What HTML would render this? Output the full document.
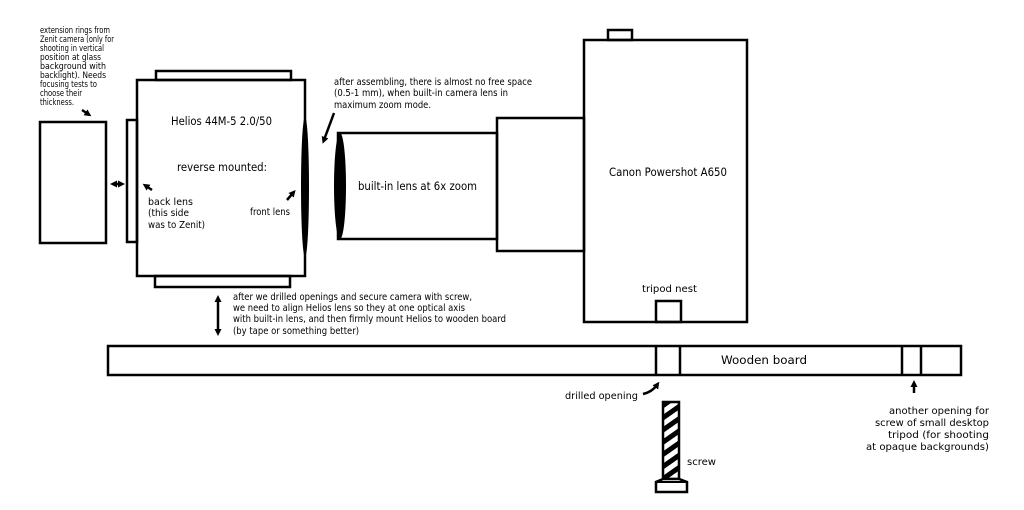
<!DOCTYPE html>
<html><head><meta charset="utf-8"><style>
html,body{margin:0;padding:0;background:#fff;width:1024px;height:510px;overflow:hidden}
svg{display:block}
text{font-family:"DejaVu Sans","Liberation Sans",sans-serif;fill:#000}
.s{font-size:8.5px}
.m{font-size:9.5px}
.l{font-size:11.5px}
</style></head><body>
<svg width="1024" height="510" viewBox="0 0 1024 510" xmlns="http://www.w3.org/2000/svg">
<defs>
<marker id="ah" markerWidth="7" markerHeight="7" refX="3" refY="3.5" orient="auto-start-reverse" markerUnits="userSpaceOnUse"><path d="M0,0 L7,3.5 L0,7 z" fill="#000"/></marker>
<pattern id="hatch" width="16" height="10" patternUnits="userSpaceOnUse" patternTransform="rotate(-35)"><rect width="16" height="5" fill="#000"/></pattern>
</defs>
<g fill="none" stroke="#000" stroke-width="2.5">
<rect x="40" y="122" width="66" height="121"/>
<rect x="127" y="120" width="10" height="122"/>
<rect x="156" y="71" width="135" height="9"/>
<rect x="155" y="276" width="135" height="11"/>
<rect x="137" y="80" width="168" height="196"/>
<rect x="338" y="133" width="159" height="106"/>
<rect x="497" y="118" width="87" height="133"/>
<rect x="608" y="30" width="24" height="10"/>
<rect x="584" y="40" width="163" height="282"/>
<rect x="656" y="301" width="25" height="21"/>
<rect x="108" y="346" width="853" height="29"/>
<line x1="656" y1="346" x2="656" y2="375"/>
<line x1="680" y1="346" x2="680" y2="375"/>
<line x1="902" y1="346" x2="902" y2="375"/>
<line x1="921" y1="346" x2="921" y2="375"/>
</g>
<ellipse cx="305" cy="187" rx="4" ry="70" fill="#000"/>
<ellipse cx="340" cy="186" rx="6" ry="53" fill="#000"/>
<rect x="663" y="402" width="16" height="77" fill="#fff"/>
<rect x="663" y="402" width="16" height="77" fill="url(#hatch)"/>
<rect x="663" y="402" width="16" height="77" fill="none" stroke="#000" stroke-width="2.5"/>
<path d="M663,479 L656,482 L656,492 L687,492 L687,482 L679,479 z" fill="#fff" stroke="#000" stroke-width="2.5"/>
<line x1="656" y1="482" x2="687" y2="482" stroke="#000" stroke-width="2"/>
<g stroke="#000" stroke-width="2.5" fill="none">
<path d="M82,110 L88,114" marker-end="url(#ah)"/>
<path d="M114,184 L121,184" marker-end="url(#ah)" marker-start="url(#ah)"/>
<path d="M152,190 L146,186" marker-end="url(#ah)"/>
<path d="M287,200 L293,193" marker-end="url(#ah)"/>
<path d="M334,113 L324,140" marker-end="url(#ah)"/>
<path d="M218,299 L218,332" marker-end="url(#ah)" marker-start="url(#ah)"/>
<path d="M643,394 Q652,392 657,385" marker-end="url(#ah)"/>
<path d="M914,393 L914,384" marker-end="url(#ah)"/>
</g>
<g lengthAdjust="spacingAndGlyphs">
<text class="s" x="40" y="33" textLength="70" lengthAdjust="spacingAndGlyphs">extension rings from</text>
<text class="s" x="40" y="42" textLength="74" lengthAdjust="spacingAndGlyphs">Zenit camera (only for</text>
<text class="s" x="40" y="51" textLength="64" lengthAdjust="spacingAndGlyphs">shooting in vertical</text>
<text class="s" x="40" y="60" textLength="61" lengthAdjust="spacingAndGlyphs">position at glass</text>
<text class="s" x="40" y="69" textLength="66" lengthAdjust="spacingAndGlyphs">background with</text>
<text class="s" x="40" y="78" textLength="66" lengthAdjust="spacingAndGlyphs">backlight). Needs</text>
<text class="s" x="40" y="87" textLength="57" lengthAdjust="spacingAndGlyphs">focusing tests to</text>
<text class="s" x="40" y="96" textLength="42" lengthAdjust="spacingAndGlyphs">choose their</text>
<text class="s" x="40" y="105" textLength="34" lengthAdjust="spacingAndGlyphs">thickness.</text>
<text class="l" x="171" y="125" textLength="101" lengthAdjust="spacingAndGlyphs">Helios 44M-5 2.0/50</text>
<text class="l" x="177" y="171" textLength="90" lengthAdjust="spacingAndGlyphs">reverse mounted:</text>
<text class="m" x="148" y="205" textLength="45" lengthAdjust="spacingAndGlyphs">back lens</text>
<text class="m" x="148" y="216" textLength="41" lengthAdjust="spacingAndGlyphs">(this side</text>
<text class="m" x="148" y="228" textLength="57" lengthAdjust="spacingAndGlyphs">was to Zenit)</text>
<text class="m" x="250" y="215" textLength="40" lengthAdjust="spacingAndGlyphs">front lens</text>
<text class="m" x="334" y="85" textLength="198" lengthAdjust="spacingAndGlyphs">after assembling, there is almost no free space</text>
<text class="m" x="334" y="96" textLength="174" lengthAdjust="spacingAndGlyphs">(0.5-1 mm), when built-in camera lens in</text>
<text class="m" x="334" y="108" textLength="97" lengthAdjust="spacingAndGlyphs">maximum zoom mode.</text>
<text class="l" x="358" y="190" textLength="119" lengthAdjust="spacingAndGlyphs">built-in lens at 6x zoom</text>
<text class="l" x="609" y="176" textLength="118" lengthAdjust="spacingAndGlyphs">Canon Powershot A650</text>
<text class="m" x="642" y="292" textLength="55" lengthAdjust="spacingAndGlyphs">tripod nest</text>
<text class="m" x="233" y="300" textLength="239" lengthAdjust="spacingAndGlyphs">after we drilled openings and secure camera with screw,</text>
<text class="m" x="233" y="311" textLength="232" lengthAdjust="spacingAndGlyphs">we need to align Helios lens so they at one optical axis</text>
<text class="m" x="233" y="322" textLength="273" lengthAdjust="spacingAndGlyphs">with built-in lens, and then firmly mount Helios to wooden board</text>
<text class="m" x="233" y="334" textLength="126" lengthAdjust="spacingAndGlyphs">(by tape or something better)</text>
<text class="l" x="721" y="364" textLength="86" lengthAdjust="spacingAndGlyphs">Wooden board</text>
<text class="m" x="565" y="399" textLength="73" lengthAdjust="spacingAndGlyphs">drilled opening</text>
<text class="m" x="687" y="465" textLength="29" lengthAdjust="spacingAndGlyphs">screw</text>
<text class="m" x="889" y="414" textLength="100" lengthAdjust="spacingAndGlyphs">another opening for</text>
<text class="m" x="875" y="426" textLength="114" lengthAdjust="spacingAndGlyphs">screw of small desktop</text>
<text class="m" x="888" y="438" textLength="101" lengthAdjust="spacingAndGlyphs">tripod (for shooting</text>
<text class="m" x="866" y="450" textLength="123" lengthAdjust="spacingAndGlyphs">at opaque backgrounds)</text>
</g>
</svg>
</body></html>
